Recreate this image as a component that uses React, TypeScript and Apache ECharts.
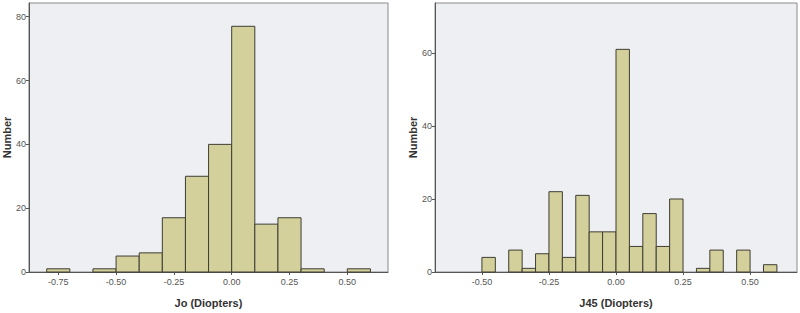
import React, { useEffect, useRef } from "react";
import * as echarts from "echarts";

// Left histogram: Jo (Diopters), bins of width 0.1
const joBinStarts = [-0.8, -0.6, -0.5, -0.4, -0.3, -0.2, -0.1, 0.0, 0.1, 0.2, 0.3, 0.5];
const joCounts = [1, 1, 5, 6, 17, 30, 40, 77, 15, 17, 1, 1];
const joBinWidth = 0.1;

// Right histogram: J45 (Diopters), bins of width 0.05
const j45BinStarts = [-0.5, -0.4, -0.35, -0.3, -0.25, -0.2, -0.15, -0.1, -0.05, 0.0, 0.05, 0.1, 0.15, 0.2, 0.3, 0.35, 0.45, 0.55];
const j45Counts = [4, 6, 1, 5, 22, 4, 21, 11, 11, 61, 7, 16, 7, 20, 1, 6, 6, 2];
const j45BinWidth = 0.05;

// Tick labels
const joXTicks = [-0.75, -0.5, -0.25, 0, 0.25, 0.5];
const j45XTicks = [-0.5, -0.25, 0, 0.25, 0.5];
const joYTicks = [0, 20, 40, 60, 80];
const j45YTicks = [0, 20, 40, 60];

const FONT = "Liberation Sans, Arial, sans-serif";
const BAR_FILL = "#d4d09b";
const BAR_EDGE = "#3e3d33";

function histSeries(starts: number[], counts: number[], width: number, axisIndex: number) {
  return {
    type: "custom",
    xAxisIndex: axisIndex,
    yAxisIndex: axisIndex,
    data: starts.map((s, i) => [s, s + width, counts[i]]),
    encode: { x: [0, 1], y: 2 },
    renderItem: (params: any, api: any) => {
      const p0 = api.coord([api.value(0), api.value(2)]);
      const p1 = api.coord([api.value(1), 0]);
      return {
        type: "rect",
        shape: { x: p0[0], y: p0[1], width: p1[0] - p0[0], height: p1[1] - p0[1] },
        style: { fill: BAR_FILL, stroke: BAR_EDGE, lineWidth: 1 },
      };
    },
  };
}

function xAxis(gridIndex: number, min: number, max: number, ticks: number[], name: string) {
  return {
    type: "value",
    gridIndex,
    min,
    max,
    name,
    nameLocation: "middle",
    nameGap: 25,
    nameTextStyle: { fontFamily: FONT, fontWeight: "bold", fontSize: 11, color: "#333" },
    axisLine: { show: true, onZero: false, lineStyle: { color: "#555", width: 1 } },
    axisTick: { show: true, customValues: ticks, length: 3, lineStyle: { color: "#555" } },
    axisLabel: {
      customValues: ticks,
      formatter: (v: number) => v.toFixed(2),
      fontFamily: FONT,
      fontSize: 9,
      color: "#555",
      margin: 5,
    },
    splitLine: { show: false },
  };
}

function yAxis(gridIndex: number, max: number, ticks: number[]) {
  return {
    type: "value",
    gridIndex,
    min: 0,
    max,
    name: "Number",
    nameLocation: "middle",
    nameGap: 13,
    nameRotate: 90,
    nameTextStyle: { fontFamily: FONT, fontWeight: "bold", fontSize: 11, color: "#333" },
    axisLine: { show: true, onZero: false, lineStyle: { color: "#555", width: 1 } },
    axisTick: { show: true, customValues: ticks, length: 3, lineStyle: { color: "#555" } },
    axisLabel: {
      customValues: ticks,
      fontFamily: FONT,
      fontSize: 9,
      color: "#555",
      margin: 3,
    },
    splitLine: { show: false },
  };
}

export default function App() {
  const ref = useRef<HTMLDivElement>(null);
  useEffect(() => {
    if (!ref.current) return;
    const chart = echarts.init(ref.current, undefined, { renderer: "svg" });
    chart.setOption({
      animation: false,
      backgroundColor: "#ffffff",
      grid: [
        {
          left: 26, top: 3, width: 362, height: 274,
          show: true, backgroundColor: "#eeeff3", borderColor: "#8a8a8a", borderWidth: 1,
        },
        {
          left: 435, top: 3, width: 362, height: 276,
          show: true, backgroundColor: "#eeeff3", borderColor: "#8a8a8a", borderWidth: 1,
        },
      ],
      xAxis: [
        xAxis(0, -0.877, 0.676, joXTicks, "Jo (Diopters)"),
        xAxis(1, -0.675, 0.675, j45XTicks, "J45 (Diopters)"),
      ],
      yAxis: [yAxis(0, 84.3, joYTicks), yAxis(1, 73.7, j45YTicks)],
      series: [
        histSeries(joBinStarts, joCounts, joBinWidth, 0),
        histSeries(j45BinStarts, j45Counts, j45BinWidth, 1),
      ],
    });
    return () => chart.dispose();
  }, []);
  return (
    <div
      ref={ref}
      style={{ width: 800, height: 313, position: "absolute", left: 0, top: 0 }}
    />
  );
}
